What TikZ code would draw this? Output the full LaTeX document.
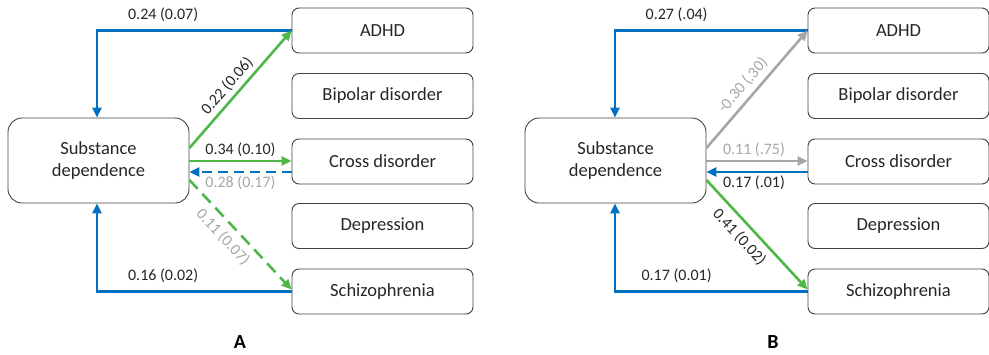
\documentclass[tikz,border=0pt]{standalone}
\usepackage{fontspec}
\setmainfont{Carlito}
\usetikzlibrary{arrows.meta,calc}
\definecolor{cblue}{HTML}{0070C0}
\definecolor{cgreen}{HTML}{4DB848}
\definecolor{cgray}{HTML}{A6A6A6}
\definecolor{ctext}{HTML}{262626}
\definecolor{cbord}{HTML}{404040}
\tikzset{
  disbox/.style={draw=cbord, line width=0.9pt, rounded corners=7pt, minimum width=181pt, minimum height=45pt, inner sep=0pt, font=\fontsize{18.5}{20}\selectfont, text=ctext},
  sdbox/.style={draw=cbord, line width=0.9pt, rounded corners=14pt, minimum width=181pt, minimum height=85pt, inner sep=0pt, align=center, font=\fontsize{18.5}{22}\selectfont, text=ctext},
  conn/.style={line width=2.6pt, -{Triangle[length=10pt,width=9pt]}},
  bl/.style={conn, cblue},
  gr/.style={conn, cgreen},
  gy/.style={conn, cgray},
  dsh/.style={dash pattern=on 10pt off 6pt},
  lab/.style={font=\fontsize{16}{18}\selectfont, text=ctext, inner sep=2pt},
  glab/.style={lab, text=cgray},
  panel/.style={font=\bfseries\fontsize{20}{22}\selectfont, text=black}
}
\begin{document}
\begin{tikzpicture}[x=1pt,y=1pt]
\useasboundingbox (0,0) rectangle (989,-354);
% Panel A
\node[sdbox] (sdA) at (98.5,-160.5) {Substance\\dependence};
\node[disbox] (adA) at (382.5,-30.5) {ADHD};
\node[disbox] (bpA) at (382.5,-96) {Bipolar disorder};
\node[disbox] (cdA) at (382.5,-161.5) {Cross disorder};
\node[disbox] (dpA) at (382.5,-226) {Depression};
\node[disbox] (szA) at (382.5,-291.5) {Schizophrenia};
\node[panel] (pA) at (240,-342) {A};
\draw[bl] (adA.west) -| node[lab, pos=0.33, above=5pt] {0.24 (0.07)} ([xshift=-1.5pt]sdA.north);
\draw[gr] ([yshift=12.5pt]sdA.east) -- node[lab, pos=0.46, sloped, above=2pt] {0.22 (0.06)} (adA.west);
\draw[gr] ([yshift=-0.5pt]sdA.east) -- node[lab, above=1pt] {0.34 (0.10)} ([yshift=0.5pt]cdA.west);
\draw[bl, dsh] ([yshift=-10.5pt]cdA.west) -- node[glab, below=0pt] {0.28 (0.17)} ([yshift=-11.5pt]sdA.east);
\draw[gr, dashed, dash pattern=on 12pt off 7pt] ([yshift=-19.5pt]sdA.east) -- node[glab, pos=0.43, sloped, below=4pt] {0.11 (0.07)} ([yshift=2pt]szA.west);
\draw[bl] (szA.west) -| node[lab, pos=0.33, above=5pt] {0.16 (0.02)} ([xshift=-1.5pt]sdA.south);
% Panel B
\node[sdbox] (sdB) at (615.5,-160.5) {Substance\\dependence};
\node[disbox] (adB) at (898.5,-30.5) {ADHD};
\node[disbox] (bpB) at (898.5,-96) {Bipolar disorder};
\node[disbox] (cdB) at (898.5,-161.5) {Cross disorder};
\node[disbox] (dpB) at (898.5,-226) {Depression};
\node[disbox] (szB) at (898.5,-291.5) {Schizophrenia};
\node[panel] (pB) at (773,-342) {B};
\draw[bl] (adB.west) -| node[lab, pos=0.34, above=5pt] {0.27 (.04)} ([xshift=-0.5pt]sdB.north);
\draw[gy] ([yshift=12.5pt]sdB.east) -- node[glab, pos=0.46, sloped, above=3pt] {-0.30 (.30)} (adB.west);
\draw[gy] ([yshift=-0.5pt]sdB.east) -- node[glab, pos=0.47, above=1pt] {0.11 (.75)} ([yshift=0.5pt]cdB.west);
\draw[bl] ([yshift=-10.5pt]cdB.west) -- node[lab, pos=0.53, below=0.5pt] {0.17 (.01)} ([yshift=-11.5pt]sdB.east);
\draw[gr] ([yshift=-19.5pt]sdB.east) -- node[lab, pos=0.43, sloped, below=4pt] {0.41 (0.02)} ([yshift=2pt]szB.west);
\draw[bl] (szB.west) -| node[lab, pos=0.34, above=5pt] {0.17 (0.01)} ([xshift=-0.5pt]sdB.south);
\end{tikzpicture}
\end{document}
